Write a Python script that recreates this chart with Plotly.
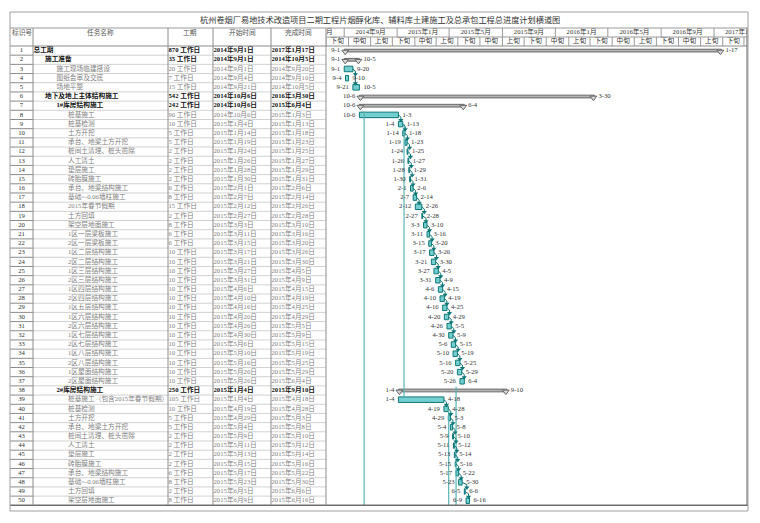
import plotly.graph_objects as go
from datetime import date, datetime, timedelta

# ---------------- data ----------------
ids = [1, 2, 3, 4, 5, 6, 7, 8, 9, 10, 11, 12, 13, 14, 15, 16, 17, 18, 19, 20,
       21, 22, 23, 24, 25, 26, 27, 28, 29, 30, 31, 32, 33, 34, 35, 36, 37, 38, 39, 40,
       41, 42, 43, 44, 45, 46, 47, 48, 49, 50]
names = ["总工期", "施工准备", "施工现场临建搭设", "图纸会审及交底", "场地平整",
         "地下及地上主体结构施工", "1#库房结构施工", "桩基施工", "桩基检测", "土方开挖",
         "承台、地梁土方开挖", "桩间土清理、桩头凿除", "人工清土", "垫层施工", "砖胎膜施工",
         "承台、地梁结构施工", "基础~-0.06墙柱施工", "2015年春节假期", "土方回填", "架空层地面施工",
         "1区一层梁板施工", "2区一层梁板施工", "1区二层结构施工", "2区二层结构施工", "1区三层结构施工",
         "2区三层结构施工", "1区四层结构施工", "2区四层结构施工", "1区五层结构施工", "1区六层结构施工",
         "2区六层结构施工", "1区七层结构施工", "2区七层结构施工", "1区八层结构施工", "2区八层结构施工",
         "1区屋面结构施工", "2区屋面结构施工", "2#库房结构施工", "桩基施工（包含2015年春节假期）", "桩基检测",
         "土方开挖", "承台、地梁土方开挖", "桩间土清理、桩头凿除", "人工清土", "垫层施工",
         "砖胎膜施工", "承台、地梁结构施工", "基础~-0.06墙柱施工", "土方回填", "架空层地面施工"]
levels = [0, 1, 2, 2, 2, 1, 2, 3, 3, 3, 3, 3, 3, 3, 3, 3, 3, 3, 3, 3,
          3, 3, 3, 3, 3, 3, 3, 3, 3, 3, 3, 3, 3, 3, 3, 3, 3, 2, 3, 3,
          3, 3, 3, 3, 3, 3, 3, 3, 3, 3]
durations = [870, 35, 20, 7, 15, 542, 242, 90, 10, 5, 5, 2, 2, 2, 2, 6, 8, 15, 2, 8,
             6, 6, 10, 10, 10, 10, 10, 10, 10, 10, 10, 10, 10, 10, 10, 10, 10, 250, 105, 10,
             5, 5, 2, 2, 2, 2, 6, 8, 2, 8]
starts = ["2014-09-01", "2014-09-01", "2014-09-01", "2014-09-04", "2014-09-21",
          "2014-10-06", "2014-10-06", "2014-10-06", "2015-01-04", "2015-01-14",
          "2015-01-19", "2015-01-24", "2015-01-26", "2015-01-28", "2015-01-30",
          "2015-02-01", "2015-02-07", "2015-02-12", "2015-02-27", "2015-03-03",
          "2015-03-11", "2015-03-15", "2015-03-17", "2015-03-21", "2015-03-27",
          "2015-03-31", "2015-04-06", "2015-04-10", "2015-04-16", "2015-04-20",
          "2015-04-26", "2015-04-30", "2015-05-06", "2015-05-10", "2015-05-16",
          "2015-05-20", "2015-05-26", "2015-01-04", "2015-01-04", "2015-04-19",
          "2015-04-29", "2015-05-04", "2015-05-09", "2015-05-11", "2015-05-13",
          "2015-05-15", "2015-05-17", "2015-05-23", "2015-06-05", "2015-06-09"]
finishes = ["2017-01-17", "2014-10-05", "2014-09-20", "2014-09-10", "2014-10-05",
            "2016-03-30", "2015-06-04", "2015-01-03", "2015-01-13", "2015-01-18",
            "2015-01-23", "2015-01-25", "2015-01-27", "2015-01-29", "2015-01-31",
            "2015-02-06", "2015-02-14", "2015-02-26", "2015-02-28", "2015-03-10",
            "2015-03-16", "2015-03-20", "2015-03-26", "2015-03-30", "2015-04-05",
            "2015-04-09", "2015-04-15", "2015-04-19", "2015-04-25", "2015-04-29",
            "2015-05-05", "2015-05-09", "2015-05-15", "2015-05-19", "2015-05-25",
            "2015-05-29", "2015-06-04", "2015-09-10", "2015-04-18", "2015-04-28",
            "2015-05-03", "2015-05-08", "2015-05-10", "2015-05-12", "2015-05-14",
            "2015-05-16", "2015-05-22", "2015-05-30", "2015-06-06", "2015-06-16"]
summary_ids = [1, 2, 6, 7, 38]

link_from = [3, 3, 8, 9, 10, 11, 12, 13, 14, 15, 16, 17, 18, 19,
             20, 21, 22, 23, 24, 25, 26, 27, 28, 29, 30, 31, 32, 33, 34, 35, 36,
             39, 40, 41, 42, 43, 44, 45, 46, 47, 48, 49]
link_to = [4, 5, 9, 10, 11, 12, 13, 14, 15, 16, 17, 18, 19, 20,
           21, 22, 23, 24, 25, 26, 27, 28, 29, 30, 31, 32, 33, 34, 35, 36, 37,
           40, 41, 42, 43, 44, 45, 46, 47, 48, 49, 50]
# long link lines running down the chart (from row, to row, date)
long_from = [7.6, 9.0, 37.6, 40.0]
long_to = [50.5, 38.6, 50.5, 50.5]
long_dates = ["2014-10-17", "2015-01-17", "2015-05-17", "2015-04-30"]

major_dates = ["2014-05-01", "2014-09-01", "2015-01-01", "2015-05-01", "2015-09-01",
               "2016-01-01", "2016-05-01", "2016-09-01", "2017-01-01", "2017-05-01"]
# first cell is cut by the chart's left edge: only "月" is visible there
major_labels = ["月", "2014年9月", "2015年1月", "2015年5月", "2015年9月",
                "2016年1月", "2016年5月", "2016年9月", "2017年1月"]
minor_dates = ["2014-07-21", "2014-09-11", "2014-11-01", "2014-12-21", "2015-02-11",
               "2015-04-01", "2015-05-21", "2015-07-11", "2015-09-01", "2015-10-21",
               "2015-12-11", "2016-02-01", "2016-03-21", "2016-05-11", "2016-07-01",
               "2016-08-21", "2016-10-11", "2016-12-01", "2017-01-21", "2017-03-11"]
minor_labels = ["下旬", "中旬", "上旬", "下旬", "中旬", "上旬", "下旬", "中旬", "上旬", "下旬",
                "中旬", "上旬", "下旬", "中旬", "上旬", "下旬", "中旬", "上旬", "下旬"]

title = "杭州卷烟厂易地技术改造项目二期工程片烟醇化库、辅料库土建施工及总承包工程总进度计划横道图"
headers = ["标识号", "任务名称", "工期", "开始时间", "完成时间"]

# ---------------- layout constants ----------------
W, H = 760, 523
GX0, GX1 = 326.0, 747.0
VIEW_START = datetime(2014, 7, 21)
VIEW_END = datetime(2017, 3, 18)
PX_PER_DAY = (GX1 - GX0) / (VIEW_END - VIEW_START).days
ROW_TOP, ROW_BOT = 46.0, 505.3
HDR_TOP, HDR_MID = 28.0, 37.0
BOX_L, BOX_R, BOX_T, BOX_B = 10.0, 748.0, 12.0, 511.0
COLS = [BOX_L, 33.0, 168.0, 213.0, 271.0, GX0]

FONT = "Liberation Serif, Noto Sans CJK SC, serif"
FS = 6.7
TEAL_DARK = "#0d7676"
TEAL_FILL = "#74d0d0"
GREY_TXT = "#808080"


def yp(y):
    return 1 - y / H


def dt(s):
    return datetime.fromisoformat(s)


def dpx(p):
    return timedelta(days=p / PX_PER_DAY)


def cn_date(s):
    v = date.fromisoformat(s)
    return f"{v.year}年{v.month}月{v.day}日"


def md(s):
    v = date.fromisoformat(s)
    return f"{v.month}-{v.day}"


n = len(ids)
st = [dt(s) for s in starts]
fe = [dt(s) + timedelta(days=1) for s in finishes]  # end of finish day
is_sum = [i in summary_ids for i in ids]

fig = go.Figure()

# ---------------- Gantt bars ----------------
task_idx = [k for k in range(n) if not is_sum[k]]
sum_idx = [k for k in range(n) if is_sum[k]]

fig.add_trace(go.Bar(
    orientation="h", y=[ids[k] for k in sum_idx],
    base=[st[k] for k in sum_idx],
    x=[(fe[k] - st[k]).total_seconds() * 1000 for k in sum_idx],
    width=0.3, marker=dict(color="#b4b4b4", line=dict(color="#6a6a6a", width=1)),
    xaxis="x", yaxis="y", hoverinfo="skip", showlegend=False))

fig.add_trace(go.Bar(
    orientation="h", y=[ids[k] for k in task_idx],
    base=[st[k] for k in task_idx],
    x=[(fe[k] - st[k]).total_seconds() * 1000 for k in task_idx],
    width=0.6, marker=dict(color=TEAL_FILL, line=dict(color=TEAL_DARK, width=1)),
    xaxis="x", yaxis="y", hoverinfo="skip", showlegend=False))

# summary end caps
cap_x, cap_y = [], []
for k in sum_idx:
    cap_x += [st[k] + dpx(1), fe[k] - dpx(1)]
    cap_y += [ids[k] + 0.12, ids[k] + 0.12]
fig.add_trace(go.Scatter(
    x=cap_x, y=cap_y, mode="markers", xaxis="x", yaxis="y",
    marker=dict(symbol="triangle-down", size=6, color="#d8d8d8", line=dict(color="#666", width=1)),
    hoverinfo="skip", showlegend=False))

# long link lines
lx, ly = [], []
for a, b, s in zip(long_from, long_to, long_dates):
    lx += [dt(s), dt(s), None]
    ly += [a, b, None]
fig.add_trace(go.Scatter(x=lx, y=ly, mode="lines", xaxis="x", yaxis="y",
                         line=dict(color="#58b4b4", width=1.2), hoverinfo="skip", showlegend=False))

# short dependency links
kx, ky, ax, ay = [], [], [], []
for a, b in zip(link_from, link_to):
    ia, ib = ids.index(a), ids.index(b)
    p0 = fe[ia]
    p1 = max(st[ib], p0) + dpx(2.5)
    kx += [p0, p1, p1, None]
    ky += [a, a + 0.25, b - 0.42, None]
    ax.append(p1)
    ay.append(b - 0.42)
fig.add_trace(go.Scatter(x=kx, y=ky, mode="lines", xaxis="x", yaxis="y",
                         line=dict(color=TEAL_DARK, width=1), hoverinfo="skip", showlegend=False))
fig.add_trace(go.Scatter(x=ax, y=ay, mode="markers", xaxis="x", yaxis="y",
                         marker=dict(symbol="triangle-down", size=4.5, color=TEAL_DARK),
                         hoverinfo="skip", showlegend=False))

# date labels
fig.add_trace(go.Scatter(
    x=[st[k] - dpx(4) for k in range(n)], y=ids, mode="text",
    text=[md(s) for s in starts], textposition="middle left",
    textfont=dict(family=FONT, size=FS, color="#333"), xaxis="x", yaxis="y",
    cliponaxis=False, hoverinfo="skip", showlegend=False))
fig.add_trace(go.Scatter(
    x=[fe[k] + dpx(4) for k in range(n)], y=ids, mode="text",
    text=[md(s) for s in finishes], textposition="middle right",
    textfont=dict(family=FONT, size=FS, color="#333"), xaxis="x", yaxis="y",
    cliponaxis=False, hoverinfo="skip", showlegend=False))

# ---------------- table text ----------------
txt_color = ["#111" if s else GREY_TXT for s in is_sum]


def bold(t, s):
    return f"<b>{t}</b>" if s else t


fig.add_trace(go.Scatter(
    x=[(COLS[0] + COLS[1]) / 2] * n, y=ids, mode="text", text=[str(i) for i in ids],
    textposition="middle center", textfont=dict(family=FONT, size=FS, color="#333"),
    xaxis="x2", yaxis="y", hoverinfo="skip", showlegend=False))
fig.add_trace(go.Scatter(
    x=[COLS[1] + 0.5 + 11.5 * lv for lv in levels], y=ids, mode="text",
    text=[bold(t, s) for t, s in zip(names, is_sum)],
    textposition="middle right", textfont=dict(family=FONT, size=FS, color=txt_color),
    xaxis="x2", yaxis="y", hoverinfo="skip", showlegend=False))
fig.add_trace(go.Scatter(
    x=[COLS[2] + 0.5] * n, y=ids, mode="text",
    text=[bold(f"{d} 工作日", s) for d, s in zip(durations, is_sum)],
    textposition="middle right", textfont=dict(family=FONT, size=FS, color=txt_color),
    xaxis="x2", yaxis="y", hoverinfo="skip", showlegend=False))
fig.add_trace(go.Scatter(
    x=[COLS[3] + 0.5] * n, y=ids, mode="text",
    text=[bold(cn_date(t), s) for t, s in zip(starts, is_sum)],
    textposition="middle right", textfont=dict(family=FONT, size=FS, color=txt_color),
    xaxis="x2", yaxis="y", hoverinfo="skip", showlegend=False))
fig.add_trace(go.Scatter(
    x=[COLS[4] + 0.5] * n, y=ids, mode="text",
    text=[bold(cn_date(t), s) for t, s in zip(finishes, is_sum)],
    textposition="middle right", textfont=dict(family=FONT, size=FS, color=txt_color),
    xaxis="x2", yaxis="y", hoverinfo="skip", showlegend=False))

# ---------------- timescale header (clipped to gantt area) ----------------
mj = [dt(s) for s in major_dates]
maj_x = [mj[i] + (mj[i + 1] - mj[i]) / 2 for i in range(len(major_labels))]
maj_pos = ["middle center"] * len(major_labels)
maj_x[0] = VIEW_START          # truncated first cell: text starts at the left edge
maj_pos[0] = "middle right"
fig.add_trace(go.Scatter(
    x=maj_x, y=[1.5] * len(major_labels), mode="text", text=major_labels,
    textposition=maj_pos, textfont=dict(family=FONT, size=FS, color="#333"),
    xaxis="x", yaxis="y2", cliponaxis=True, hoverinfo="skip", showlegend=False))
mn = [dt(s) for s in minor_dates]
fig.add_trace(go.Scatter(
    x=[mn[i] + (mn[i + 1] - mn[i]) / 2 for i in range(len(minor_labels))],
    y=[0.5] * len(minor_labels), mode="text", text=minor_labels,
    textposition="middle center", textfont=dict(family=FONT, size=FS, color="#333"),
    xaxis="x", yaxis="y2", cliponaxis=True, hoverinfo="skip", showlegend=False))

shapes = []
LINE = dict(color="#9a9a9a", width=1)
for m in mj:
    shapes.append(dict(type="line", xref="x", yref="y2", x0=m, x1=m, y0=1, y1=2, line=LINE, layer="above"))
for m in mn:
    shapes.append(dict(type="line", xref="x", yref="y2", x0=m, x1=m, y0=0, y1=1, line=LINE, layer="above"))

# ---------------- table grid ----------------
def hline(y, x0, x1, color="#a8a8a8", width=1):
    shapes.append(dict(type="line", xref="paper", yref="paper", x0=x0 / W, x1=x1 / W,
                       y0=yp(y), y1=yp(y), line=dict(color=color, width=width)))


def vline(x, y0, y1, color="#a8a8a8", width=1):
    shapes.append(dict(type="line", xref="paper", yref="paper", x0=x / W, x1=x / W,
                       y0=yp(y0), y1=yp(y1), line=dict(color=color, width=width)))


pitch = (ROW_BOT - ROW_TOP) / len(ids)
for r in ids[:-1]:
    yy = ROW_TOP + r * pitch
    hline(yy, COLS[0], COLS[1], color="#8c8c8c", width=1)
    hline(yy, COLS[1], COLS[-1], color="#d2d2d2", width=1)

hline(HDR_TOP, BOX_L, BOX_R, color="#9a9a9a")
hline(HDR_MID, GX0, GX1, color="#9a9a9a")
hline(ROW_TOP, BOX_L, BOX_R, color="#8a8a8a")
hline(ROW_BOT, BOX_L, BOX_R, color="#6e6e6e", width=1.5)
for c in COLS[1:]:
    vline(c, HDR_TOP, ROW_BOT, color="#8c8c8c")
vline(GX1, HDR_TOP, ROW_BOT, color="#7a7a7a", width=1.2)
shapes.append(dict(type="rect", xref="paper", yref="paper", x0=BOX_L / W, x1=BOX_R / W,
                   y0=yp(BOX_B), y1=yp(BOX_T), line=dict(color="#a0a0a0", width=1)))

# ---------------- annotations ----------------
ann = [dict(text=title, x=0.5, y=yp(20), xref="paper", yref="paper", showarrow=False,
            font=dict(family=FONT, size=8.2, color="#333"), xanchor="center", yanchor="middle")]
hdr_x = [(COLS[i] + COLS[i + 1]) / 2 for i in range(5)]
for t, x in zip(headers, hdr_x):
    ann.append(dict(text=t, x=x / W, y=yp(32.5), xref="paper", yref="paper", showarrow=False,
                    font=dict(family=FONT, size=FS, color="#555"), xanchor="center", yanchor="middle"))

fig.update_layout(
    width=W, height=H, margin=dict(l=0, r=0, t=0, b=0),
    paper_bgcolor="white", plot_bgcolor="rgba(0,0,0,0)",
    barmode="overlay", showlegend=False,
    xaxis=dict(type="date", domain=[GX0 / W, GX1 / W], range=[VIEW_START, VIEW_END],
               visible=False, fixedrange=True, anchor="y"),
    yaxis=dict(domain=[yp(ROW_BOT), yp(ROW_TOP)], range=[len(ids) + 0.5, 0.5],
               visible=False, fixedrange=True, anchor="x"),
    xaxis2=dict(domain=[0, 1], range=[0, W], visible=False, fixedrange=True, anchor="y"),
    yaxis2=dict(domain=[yp(ROW_TOP), yp(HDR_TOP)], range=[0, 2], visible=False,
                fixedrange=True, anchor="x"),
    shapes=shapes, annotations=ann,
)

fig.write_html("out.html")
